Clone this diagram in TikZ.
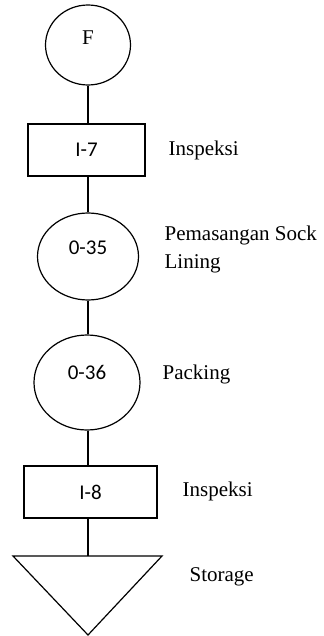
\documentclass[tikz,border=0pt]{standalone}
\usepackage{fontspec}
\setmainfont{Liberation Serif}
\newfontfamily\calib{Carlito}
\usetikzlibrary{shapes.geometric}

\begin{document}
\begin{tikzpicture}[x=0.5pt,y=-0.5pt,line width=0.6pt,
   oval/.style={draw,ellipse,inner sep=0pt},
   box/.style={draw,rectangle,inner sep=0pt,font=\calib\fontsize{10.5}{13}\selectfont},
   num/.style={font=\calib\fontsize{10.5}{13}\selectfont},
   note/.style={anchor=west,inner sep=0pt,align=left,font=\fontsize{10.5}{14}\selectfont}]
   \useasboundingbox (0,0) rectangle (324,636);
   % symbols
   \node[oval,minimum width=42.5pt,minimum height=40pt,
         label={[yshift=3.5pt,font=\fontsize{10.5}{13}\selectfont]center:F}] (f) at (88,45) {};
   \node[box,minimum width=58.5pt,minimum height=26pt] (i7) at (86.5,150) {I-7};
   \node[oval,minimum width=50.5pt,minimum height=43.5pt,
         label={[yshift=4.25pt,num]center:0-35}] (o35) at (88,256.5) {};
   \node[oval,minimum width=53pt,minimum height=47.5pt,
         label={[yshift=5.25pt,num]center:0-36}] (o36) at (87,382.5) {};
   \node[box,minimum width=66.5pt,minimum height=26pt] (i8) at (90.5,492) {I-8};
   \coordinate (st) at (88,556);
   \draw (13,556) -- (162,556) -- (88,635) -- cycle;
   % keterangan
   \node[note] (t-i7) at (168,150) {Inspeksi};
   \node[note] (t-o35) at (164,249) {Pemasangan Sock\\Lining};
   \node[note] (t-o36) at (162,374) {Packing};
   \node[note] (t-i8) at (182,491) {Inspeksi};
   \node[note] (t-st) at (189,577) {Storage};
   % garis
   \draw (f.south) -- (f.south |- i7.north);
   \draw (f.south |- i7.south) -- (o35.north);
   \draw (o35.south) -- (o35.south |- o36.north);
   \draw (o35.south |- o36.south) -- (o35.south |- i8.north);
   \draw (o35.south |- i8.south) -- (st);
\end{tikzpicture}
\end{document}
